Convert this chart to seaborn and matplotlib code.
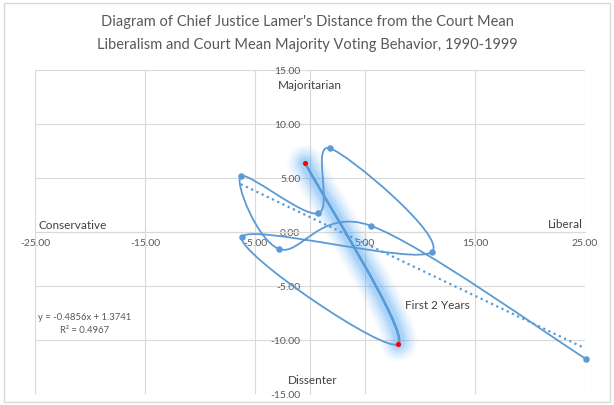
import numpy as np
import pandas as pd
import matplotlib
matplotlib.use("Agg")
import matplotlib.pyplot as plt
from matplotlib.path import Path
from matplotlib.patches import PathPatch, Rectangle
import seaborn as sns

# ---- data ----
years = [1990, 1991, 1992, 1993, 1994, 1995, 1996, 1997, 1998, 1999]
liberalism_dist = [-0.45, 8.03, -6.2, 11.1, 1.82, 0.76, -6.3, -2.82, 5.5, 25.06]
majority_dist = [6.4, -10.34, -0.49, -1.82, 7.75, 1.73, 5.16, -1.57, 0.59, -11.73]
trend_slope = -0.4856
trend_intercept = 1.3741
r_squared = 0.4967
x_ticks = [-25, -15, -5, 5, 15, 25]
y_ticks = [-15, -10, -5, 0, 5, 10, 15]

df = pd.DataFrame({"year": years, "x": liberalism_dist, "y": majority_dist})

sns.set_theme(style="white")
plt.rcParams["font.family"] = ["Lato", "DejaVu Sans"]

BLUE = "#5B9BD5"
GRAY_TXT = "#595959"
GRID = "#d9d9d9"

fig = plt.figure(figsize=(6.14, 4.06), dpi=100)
ax = fig.add_axes([35 / 614, 11 / 406, 550 / 614, 324 / 406])

# frame around chart
fig.patches.append(Rectangle((4 / 614, 3 / 406), 606 / 614, 399 / 406,
                             transform=fig.transFigure, fill=False,
                             edgecolor="#d9d9d9", lw=1.0))

# smoothed (Excel-like) path through the points
pts = np.column_stack([df["x"].values, df["y"].values])
n = len(pts)

def seg_path(i):
    p0 = pts[max(i - 1, 0)]
    p1 = pts[i]
    p2 = pts[i + 1]
    p3 = pts[min(i + 2, n - 1)]
    c1 = p1 + (p2 - p0) / 6.0
    c2 = p2 - (p3 - p1) / 6.0
    return [p1, c1, c2, p2]

verts, codes = [], []
for i in range(n - 1):
    v = seg_path(i)
    if i == 0:
        verts.append(v[0]); codes.append(Path.MOVETO)
    verts += v[1:]
    codes += [Path.CURVE4] * 3
full_path = Path(verts, codes)
first_path = Path(seg_path(0), [Path.MOVETO] + [Path.CURVE4] * 3)

# trendline
tx = np.array([min(liberalism_dist), 25.0])
ax.plot(tx, trend_slope * tx + trend_intercept, color=BLUE, lw=1.6,
        ls=(0, (1, 1.6)), zorder=3)

# glow on the first two years
for w, a in [(36, 0.04), (31, 0.06), (26, 0.08), (21, 0.10), (16, 0.13), (11, 0.16)]:
    ax.add_patch(PathPatch(first_path, fill=False, edgecolor="#4aa3f7",
                           lw=w * 0.72, alpha=a, capstyle="round", zorder=4))

ax.add_patch(PathPatch(full_path, fill=False, edgecolor=BLUE, lw=1.3, zorder=5))
ax.add_patch(PathPatch(first_path, fill=False, edgecolor=BLUE, lw=1.9, zorder=5))

# markers
df["first"] = df["year"] <= 1991
sns.scatterplot(data=df[~df["first"]], x="x", y="y", color=BLUE, s=22,
                edgecolor=BLUE, linewidth=0, ax=ax, zorder=6, clip_on=False)
sns.scatterplot(data=df[df["first"]], x="x", y="y", color="#ff0000", s=14,
                edgecolor="#ff0000", linewidth=0, ax=ax, zorder=7, clip_on=False)

# axes styling (after plotting so nothing resets it)
ax.set_xlim(-25, 25)
ax.set_ylim(-15, 15)
ax.set_xlabel("")
ax.set_ylabel("")
for s in ["top", "right"]:
    ax.spines[s].set_visible(False)
ax.spines["left"].set_position(("data", 0))
ax.spines["bottom"].set_position(("data", 0))
for s in ["left", "bottom"]:
    ax.spines[s].set_color(GRID)
    ax.spines[s].set_linewidth(0.8)
ax.set_xticks(x_ticks)
ax.set_yticks(y_ticks)
ax.set_xticklabels([f"{v:.2f}" for v in x_ticks])
ax.set_yticklabels([f"{v:.2f}" for v in y_ticks])
ax.tick_params(axis="x", length=0, pad=4, labelsize=7.5, labelcolor=GRAY_TXT)
ax.tick_params(axis="y", length=0, pad=7, labelsize=7.5, labelcolor=GRAY_TXT)
ax.grid(True, color=GRID, lw=0.8)
ax.set_axisbelow(True)

# annotations
TXT = "#404040"
ax.text(0, 13.7, "Majoritarian", ha="center", va="center", fontsize=8.5, color=TXT)
ax.text(0.2, -13.7, "Dissenter", ha="center", va="center", fontsize=8.5, color=TXT)
ax.text(-24.7, 0.65, "Conservative", ha="left", va="center", fontsize=8.5, color=TXT)
ax.text(24.8, 0.83, "Liberal", ha="right", va="center", fontsize=8.5, color=TXT)
ax.text(11.55, -6.67, "First 2 Years", ha="center", va="center", fontsize=8.5, color=TXT)
ax.text(-20.45, -7.78, f"y = {trend_slope}x + {trend_intercept}", ha="center",
        va="center", fontsize=6.8, color=GRAY_TXT)
ax.text(-20.45, -9.07, f"R² = {r_squared}", ha="center", va="center",
        fontsize=6.8, color=GRAY_TXT)

fig.text(0.5, 1 - 22 / 406, "Diagram of Chief Justice Lamer's Distance from the Court Mean",
         ha="center", va="center", fontsize=10.5, color=GRAY_TXT)
fig.text(0.5, 1 - 45 / 406, "Liberalism and Court Mean Majority Voting Behavior, 1990-1999",
         ha="center", va="center", fontsize=10.5, color=GRAY_TXT)

fig.savefig("out.png", dpi=100, facecolor="white")
